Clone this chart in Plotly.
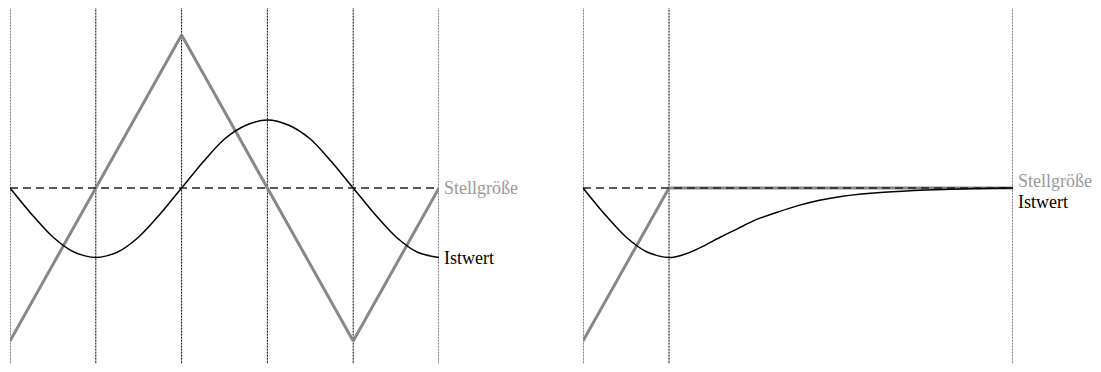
import plotly.graph_objects as go

# ---- data (time in grid units, value relative to setpoint; Stellgröße amplitude = 1) ----
t_left = [0, 0.25, 0.5, 0.75, 1, 1.25, 1.5, 1.75, 2, 2.25, 2.5, 2.75, 3,
          3.25, 3.5, 3.75, 4, 4.25, 4.5, 4.75, 5]
ist_left = [0, -0.17, -0.32, -0.42, -0.455, -0.42, -0.32, -0.17, 0, 0.17, 0.32,
            0.41, 0.445, 0.41, 0.32, 0.17, 0, -0.17, -0.32, -0.42, -0.455]
stell_t_left = [0, 2, 4, 5]
stell_left = [-1, 1, -1, 0]
grid_left = [0, 1, 2, 3, 4, 5]

t_right = [0, 0.25, 0.5, 0.75, 1, 1.2, 1.4, 1.6, 1.8, 2.0, 2.25, 2.5, 2.75,
           3.0, 3.5, 4.0, 4.5, 5.0]
ist_right = [0, -0.17, -0.32, -0.42, -0.455, -0.43, -0.38, -0.32, -0.265, -0.21,
             -0.16, -0.115, -0.08, -0.055, -0.028, -0.013, -0.005, 0]
stell_t_right = [0, 1, 5]
stell_right = [-1, 0, 0]
grid_right = [0, 1, 5]

sollwert_t = [0, 5]
sollwert = [0, 0]

label_stell = "Stellgröße"
label_ist = "Istwert"

GRAY = "#888888"
FONT = "Liberation Serif"
OFF = 8  # default page body margin
W, H = 1101 - 2 * OFF, 372 - 2 * OFF
Y0 = 188 - OFF  # pixel row of the setpoint inside the figure
AMP = 153       # pixels per unit

fig = go.Figure()

panels = [
    ("x", "y", t_left, ist_left, stell_t_left, stell_left, grid_left),
    ("x2", "y2", t_right, ist_right, stell_t_right, stell_right, grid_right),
]

y_bottom = -(H - Y0) / AMP
y_top = Y0 / AMP

for xa, ya, t, ist, st, sv, grid in panels:
    for g in grid:
        fig.add_shape(type="line", xref=xa, yref=ya, x0=g, x1=g, y0=y_bottom - 0.05, y1=y_top,
                      line=dict(color="black", width=1, dash="2px,1px"), layer="below")
    fig.add_trace(go.Scatter(x=st, y=sv, xaxis=xa, yaxis=ya, mode="lines",
                             line=dict(color=GRAY, width=3), hoverinfo="skip"))
    fig.add_trace(go.Scatter(x=sollwert_t, y=sollwert, xaxis=xa, yaxis=ya, mode="lines",
                             line=dict(color="#222222", width=1.5, dash="8px,5px"),
                             hoverinfo="skip"))
    fig.add_trace(go.Scatter(x=t, y=ist, xaxis=xa, yaxis=ya, mode="lines",
                             line=dict(color="black", width=1.5, shape="spline", smoothing=0.8),
                             hoverinfo="skip"))

# labels
fs = 18
fig.add_annotation(x=5, y=0, xref="x", yref="y", text=label_stell, showarrow=False,
                   xanchor="left", yanchor="middle", xshift=3,
                   font=dict(family=FONT, size=fs, color="#999999"))
fig.add_annotation(x=5, y=ist_left[-1], xref="x", yref="y", text=label_ist, showarrow=False,
                   xanchor="left", yanchor="middle", xshift=3,
                   font=dict(family=FONT, size=fs, color="black"))
fig.add_annotation(x=5, y=0, xref="x2", yref="y2", text=label_stell, showarrow=False,
                   xanchor="left", yanchor="bottom", xshift=3, yshift=-5,
                   font=dict(family=FONT, size=fs, color="#999999"))
fig.add_annotation(x=5, y=0, xref="x2", yref="y2", text=label_ist, showarrow=False,
                   xanchor="left", yanchor="top", xshift=3, yshift=-2,
                   font=dict(family=FONT, size=fs, color="black"))

yr = [y_bottom, y_top]
ax_common = dict(showgrid=False, zeroline=False, showticklabels=False, ticks="",
                 showline=False, fixedrange=True)
fig.update_layout(
    width=W, height=H,
    margin=dict(l=0, r=0, t=0, b=0),
    paper_bgcolor="white", plot_bgcolor="white",
    showlegend=False,
    xaxis=dict(domain=[(10 - OFF) / W, (439 - OFF) / W], range=[0, 5], **ax_common),
    xaxis2=dict(domain=[(583 - OFF) / W, (1013 - OFF) / W], range=[0, 5], anchor="y2", **ax_common),
    yaxis=dict(domain=[0, 1], range=yr, **ax_common),
    yaxis2=dict(domain=[0, 1], range=yr, anchor="x2", **ax_common),
)

fig.write_html("out.html")
